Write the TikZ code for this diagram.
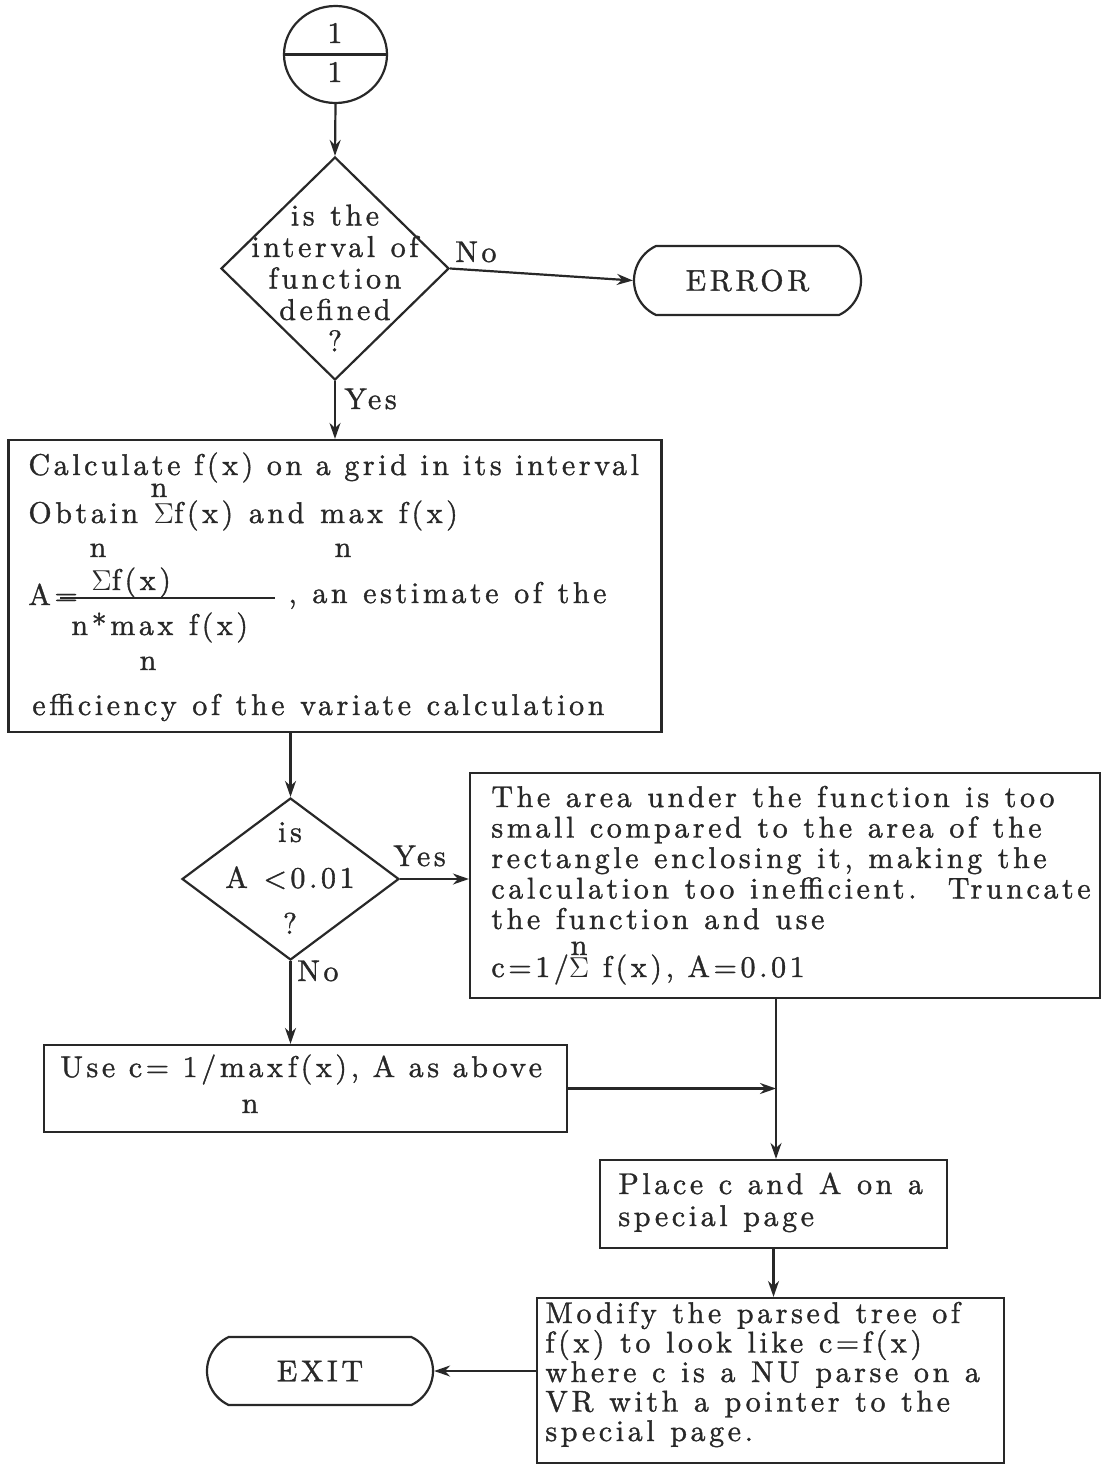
\documentclass[tikz,border=0pt]{standalone}
\usepackage{fontspec}
\setmainfont{lmroman10-regular.otf}[LetterSpace=12, WordSpace=1.15, FakeBold=1.2]
\newfontfamily\tightfont{lmroman10-regular.otf}[LetterSpace=12, WordSpace=1.0, FakeBold=1.2]
\usetikzlibrary{shapes.geometric,shapes.misc,arrows.meta,calc}
\definecolor{ink}{RGB}{40,40,40}
\newcommand\mainsz{\fontsize{15pt}{15.75pt}\selectfont}
% a small "n" set above a symbol
\newsavebox\nbox
\newcommand\withn[1]{\sbox\nbox{#1}\makebox[\wd\nbox][c]{\raisebox{11pt}[0pt][0pt]{n}}\kern-\wd\nbox\usebox\nbox}
\tikzset{
  every node/.style={inner sep=0pt, text=ink, font=\mainsz},
  line/.style={draw=ink, line width=1.1pt},
  arr/.style={line, -{Stealth[length=8pt,width=5.5pt]}},
  procbox/.style={line, rectangle, inner sep=0pt},
  decision/.style={line, diamond, inner sep=0pt},
  terminal/.style={line, rounded rectangle, rounded rectangle arc length=130, inner sep=0pt},
  txt/.style={anchor=base west},
  tighttxt/.style={anchor=base west, font=\tightfont\mainsz},
  idx/.style={anchor=base},
}
\begin{document}
\begin{tikzpicture}[x=0.5pt,y=-0.5pt]
\useasboundingbox (0,0) rectangle (1102,1465);
\fill[white] (0,0) rectangle (1102,1465);

% off-page connector
\node[line, ellipse, minimum width=51.5pt, minimum height=48.5pt] (conn) at (335.5,54.5) {};
\draw[line] (conn.west) -- (conn.east);
\node[idx] (connup) at (335,43) {1};
\node[idx] (connlo) at (335,82) {1};

% first decision
\node[decision, minimum width=114pt, minimum height=111.5pt] (d1) at (335,268.5) {};
\node[align=center] (d1t) at (335,278) {is the\\interval of\\function\\defined\\?};

% error terminal
\node[terminal, minimum width=113.5pt, minimum height=34.5pt] (err) at (747.5,280.5) {ERROR};

% calculation box
\node[procbox, minimum width=326.5pt, minimum height=146pt] (calc) at (335,586) {};
\node[tighttxt] (c1) at (28,475) {Calculate f(x) on a grid in its interval};
\node[idx] (c1n) at (159,497) {n};
\node[txt] (c2) at (28,523) {Obtain \(\Sigma\)f(x) and max f(x)};
\node[idx] (c2n) at (98,557) {n};
\node[idx] (c2m) at (343,557) {n};
\node[txt] (cnum) at (91,590) {\(\Sigma\)f(x)};
\node[txt] (ca) at (28,605) {A=};
\draw[line, line width=1pt] (60,598) -- (275,598);
\node[txt] (cest) at (288,603) {, an estimate of the};
\node[txt] (cden) at (71,635) {n*max f(x)};
\node[idx] (cdn) at (148,670) {n};
\node[txt] (c3) at (32,715) {efficiency of the variate calculation};

% second decision
\node[decision, minimum width=108.5pt, minimum height=81pt] (d2) at (290.5,879) {};
\node[align=center, font={\fontsize{15pt}{23pt}\selectfont}] (d2t) at (290,878) {is\\A <0.01\\?};

% truncation box
\node[procbox, minimum width=315pt, minimum height=112.5pt] (small) at (785,885.5) {};
\foreach \t [count=\i from 0] in {The area under the function is too, small compared to the area of the, {rectangle enclosing it, making the}, calculation too inefficient.\ \ Truncate, the function and use}
  \node[txt] (s\i) at (491,{807+30.5*\i}) {\t};
\node[tighttxt] (s5) at (491,977) {c=1/\withn{\(\Sigma\)} f(x), A=0.01};

% normal case box
\node[procbox, minimum width=261.5pt, minimum height=43.5pt] (use) at (305.5,1088.5) {};
\node[tighttxt] (u1) at (60,1077) {Use c= 1/max\,f(x), A as above};
\node[idx] (u1n) at (250,1113) {n};

% place box
\node[procbox, minimum width=173.5pt, minimum height=44pt] (place) at (773.5,1204) {};
\node[txt] (p1) at (618,1194) {Place c and A on a};
\node[txt] (p2) at (618,1226) {special page};

% modify box
\node[procbox, minimum width=233.5pt, minimum height=82.5pt] (mod) at (770.5,1380.5) {};
\foreach \t [count=\i from 0] in {Modify the parsed tree of, f(x) to look like c=f(x), where c is a NU parse on a, VR with a pointer to the, special page.}
  \node[txt] (m\i) at (545,{1323+29.5*\i}) {\t};

% exit terminal
\node[terminal, minimum width=113pt, minimum height=34pt] (exit) at (320,1371) {EXIT};

% branch labels
\node[txt] (lno1) at (455,262) {No};
\node[txt] (lyes1) at (344,409) {Yes};
\node[txt] (lyes2) at (393,866) {Yes};
\node[txt] (lno2) at (297,981) {No};

% connectors
\coordinate (merge) at (776,1088.5);
\draw[arr] (conn.south) -- (d1.north);
\draw[arr] (d1.east) -- (err.west);
\draw[arr] (d1.south) -- (calc.north);
\draw[arr] (calc.south -| d2.north) -- (d2.north);
\draw[arr] (d2.east) -- (d2.east -| small.west);
\draw[arr] (d2.south) -- (d2.south |- use.north);
\draw[arr] (small.south -| merge) -- (place.north -| merge);
\draw[arr] (use.east |- merge) -- (merge);
\draw[arr] (place.south) -- (place.south |- mod.north);
\draw[arr] (mod.west |- exit.east) -- (exit.east);
\end{tikzpicture}
\end{document}
